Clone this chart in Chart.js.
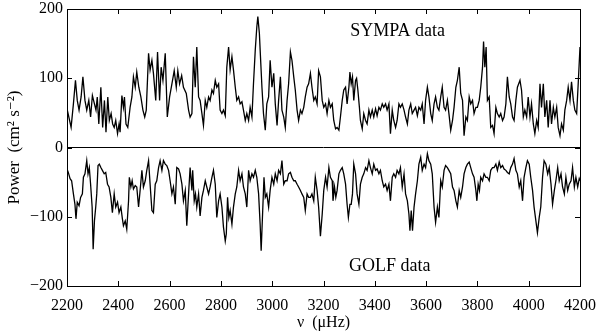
<!DOCTYPE html>
<html>
<head>
<meta charset="utf-8">
<script src="https://cdn.jsdelivr.net/npm/chart.js@4"></script>
<style>
html, body { margin: 0; padding: 0; background: #fff; }
#wrap { width: 600px; height: 332px; }
</style>
</head>
<body>
<div id="wrap"><canvas id="powerChart" width="600" height="332"></canvas></div>
<script>
// [frequency (muHz), power]
const sympa = [
  [2200,56],[2216,29],[2225,63],[2233,97],[2240,68],[2247,54],[2255,73],[2262,102],[2270,68],[2277,54],[2285,68],[2292,44],[2299,75],[2307,63],[2313,54],[2318,73],[2324,34],[2332,87],[2339,29],[2346,68],[2352,22],[2359,73],[2365,39],[2372,49],[2378,34],[2384,29],[2390,39],[2397,20],[2403,34],[2407,22],[2414,75],[2420,58],[2424,73],[2430,34],[2437,29],[2446,58],[2453,73],[2459,102],[2466,87],[2472,109],[2480,87],[2488,73],[2496,54],[2503,44],[2509,54],[2518,136],[2524,112],[2531,126],[2537,107],[2546,68],[2553,138],[2561,68],[2567,116],[2574,97],[2583,136],[2591,44],[2600,73],[2609,92],[2618,111],[2626,87],[2632,111],[2639,92],[2647,104],[2654,87],[2665,78],[2674,54],
  [2680,44],[2687,49],[2693,131],[2700,87],[2706,145],[2713,73],[2719,68],[2726,49],[2732,32],[2739,68],[2745,58],[2752,73],[2758,68],[2765,83],[2771,78],[2778,97],[2784,87],[2791,92],[2797,54],[2804,49],[2810,54],[2817,46],[2823,116],[2830,145],[2836,112],[2843,131],[2849,112],[2856,87],[2862,68],[2869,73],[2875,63],[2882,66],[2888,54],[2895,39],[2901,49],[2908,39],[2914,58],[2921,44],[2927,92],[2934,141],[2940,174],[2944,189],[2950,165],[2953,141],[2960,87],[2966,49],[2973,25],[2979,63],[2986,73],[2992,126],[2999,87],[3006,107],[3012,63],[3019,32],[3025,68],[3032,102],[3038,54],[3045,44],[3051,29],[3058,68],[3064,92],[3071,138],[3077,126],[3084,102],[3090,83],[3097,54],[3103,39],[3110,54],[3116,49],[3123,58],[3129,73],[3136,87],[3142,92],[3149,107],[3155,87],[3162,68],[3168,73],[3175,63],[3181,111],
  [3188,102],[3195,68],[3201,58],[3208,63],[3214,49],[3221,68],[3227,58],[3234,63],[3240,39],[3247,27],[3253,29],[3260,25],[3266,44],[3273,68],[3279,83],[3286,87],[3292,63],[3299,87],[3303,109],[3308,92],[3313,102],[3318,68],[3325,97],[3329,100],[3334,83],[3340,58],[3344,39],[3351,27],[3357,49],[3364,39],[3370,34],[3377,54],[3383,44],[3390,54],[3396,44],[3403,56],[3409,46],[3416,58],[3422,54],[3429,63],[3435,58],[3442,63],[3448,54],[3455,63],[3461,20],[3468,54],[3474,39],[3481,29],[3487,39],[3494,63],[3500,58],[3507,63],[3514,54],[3520,44],[3527,34],[3533,54],[3540,63],[3546,49],[3553,54],[3559,58],[3566,46],[3572,58],[3579,54],[3585,63],[3592,34],[3598,68],[3605,87],[3611,73],[3618,49],[3624,39],[3631,63],[3637,73],[3644,58],[3650,54],[3657,73],[3663,87],[3670,58],[3676,54],[3683,68],[3689,49],
  [3696,25],[3703,39],[3709,58],[3716,87],[3722,97],[3729,116],[3735,78],[3742,68],[3748,17],[3755,44],[3761,39],[3768,73],[3774,63],[3781,68],[3787,49],[3794,58],[3800,58],[3807,68],[3813,87],[3820,116],[3824,153],[3829,116],[3834,145],[3839,68],[3846,73],[3852,29],[3859,32],[3865,20],[3872,58],[3878,49],[3885,44],[3891,49],[3898,39],[3904,44],[3911,63],[3917,102],[3924,73],[3930,63],[3937,44],[3943,39],[3950,68],[3956,87],[3966,97],[3972,83],[3979,44],[3985,54],[3992,44],[3998,73],[4005,44],[4011,63],[4018,34],[4024,20],[4031,39],[4037,29],[4044,92],[4050,58],[4057,92],[4063,44],[4070,68],[4076,29],[4083,68],[4089,34],[4096,58],[4102,44],[4109,58],[4115,29],[4122,17],[4128,34],[4135,25],[4141,54],[4148,68],[4154,87],[4161,68],[4167,95],[4174,68],[4180,54],[4187,49],[4193,92],[4200,145]
];

const golf = [
  [2200,-31],[2205,-36],[2212,-45],[2218,-48],[2225,-67],[2231,-82],[2235,-103],[2240,-79],[2247,-84],[2253,-72],[2260,-67],[2264,-43],[2270,-38],[2277,-19],[2282,-38],[2287,-29],[2292,-53],[2298,-86],[2302,-147],[2307,-106],[2312,-86],[2316,-67],[2321,-26],[2326,-24],[2332,-29],[2338,-33],[2345,-38],[2351,-36],[2358,-53],[2364,-57],[2371,-72],[2377,-94],[2384,-67],[2390,-86],[2397,-79],[2403,-94],[2410,-86],[2416,-103],[2420,-113],[2427,-106],[2433,-118],[2440,-77],[2443,-43],[2449,-57],[2454,-48],[2459,-60],[2466,-55],[2472,-57],[2479,-86],[2485,-62],[2492,-33],[2498,-57],[2505,-48],[2511,-33],[2518,-19],[2524,-53],[2531,-91],[2537,-94],[2544,-53],[2550,-48],[2557,-29],[2563,-19],[2570,-33],[2576,-19],[2583,-24],[2589,-26],[2596,-33],[2602,-48],[2609,-67],[2615,-57],[2622,-82],[2628,-29],[2635,-31],[2641,-38],[2648,-53],[2654,-77],[2661,-62],[2667,-113],[2674,-67],
  [2680,-29],[2687,-62],[2690,-33],[2696,-77],[2701,-67],[2706,-86],[2713,-67],[2719,-99],[2726,-72],[2732,-62],[2739,-48],[2745,-57],[2752,-67],[2758,-57],[2765,-43],[2771,-33],[2778,-53],[2784,-101],[2791,-77],[2797,-67],[2804,-86],[2810,-115],[2817,-135],[2821,-125],[2826,-72],[2831,-101],[2836,-91],[2843,-111],[2849,-86],[2856,-67],[2862,-57],[2869,-33],[2875,-48],[2882,-38],[2888,-57],[2895,-67],[2901,-86],[2908,-33],[2914,-48],[2921,-38],[2927,-43],[2934,-33],[2940,-43],[2947,-67],[2953,-111],[2957,-149],[2963,-91],[2968,-43],[2973,-72],[2979,-67],[2986,-86],[2992,-62],[2999,-43],[3006,-53],[3012,-38],[3019,-48],[3025,-33],[3032,-38],[3038,-19],[3045,-53],[3051,-48],[3058,-48],[3064,-38],[3071,-36],[3077,-43],[3084,-48],[3090,-48],[3097,-53],[3103,-57],[3110,-62],[3116,-67],[3123,-72],[3129,-91],[3136,-67],[3142,-72],[3149,-72],[3155,-67],[3162,-77],[3168,-43],[3175,-62],[3181,-86],
  [3188,-128],[3195,-96],[3201,-62],[3208,-43],[3214,-57],[3221,-29],[3227,-43],[3234,-48],[3237,-77],[3243,-57],[3248,-72],[3253,-62],[3260,-38],[3266,-33],[3273,-29],[3279,-38],[3286,-53],[3292,-82],[3297,-101],[3303,-82],[3308,-82],[3313,-67],[3318,-24],[3325,-38],[3331,-67],[3338,-82],[3344,-53],[3351,-43],[3357,-38],[3364,-29],[3370,-33],[3377,-19],[3383,-29],[3390,-38],[3396,-24],[3403,-33],[3409,-31],[3416,-38],[3422,-33],[3429,-48],[3435,-57],[3442,-53],[3448,-62],[3455,-53],[3461,-77],[3468,-43],[3474,-38],[3481,-43],[3487,-33],[3494,-38],[3500,-29],[3507,-57],[3514,-38],[3520,-67],[3527,-77],[3533,-96],[3537,-120],[3542,-91],[3547,-120],[3553,-86],[3559,-67],[3566,-48],[3572,-24],[3579,-14],[3585,-33],[3592,-24],[3598,-29],[3605,-9],[3611,-19],[3618,-24],[3624,-38],[3631,-86],[3637,-108],[3644,-86],[3650,-101],[3657,-48],[3663,-57],[3670,-33],[3676,-26],[3683,-29],[3689,-33],
  [3696,-38],[3703,-57],[3709,-62],[3716,-77],[3722,-86],[3729,-62],[3735,-72],[3742,-57],[3748,-38],[3755,-29],[3761,-24],[3768,-21],[3774,-29],[3781,-38],[3787,-43],[3794,-62],[3798,-77],[3803,-53],[3808,-62],[3813,-43],[3820,-48],[3826,-38],[3833,-43],[3839,-43],[3846,-48],[3852,-33],[3859,-29],[3865,-29],[3872,-24],[3878,-33],[3885,-21],[3891,-29],[3898,-26],[3904,-31],[3911,-33],[3917,-36],[3924,-38],[3930,-29],[3937,-24],[3943,-16],[3950,-33],[3956,-38],[3963,-57],[3969,-48],[3976,-77],[3982,-43],[3989,-29],[3995,-19],[4002,-24],[4008,-43],[4015,-62],[4021,-86],[4028,-106],[4034,-123],[4041,-101],[4047,-86],[4054,-43],[4060,-19],[4067,-24],[4074,-38],[4080,-29],[4087,-53],[4093,-82],[4100,-62],[4106,-48],[4113,-29],[4119,-48],[4126,-38],[4132,-57],[4139,-67],[4145,-43],[4152,-62],[4158,-53],[4165,-48],[4171,-29],[4178,-57],[4184,-43],[4191,-57],[4197,-45],[4200,-48]
];

const xTicks = [2200, 2400, 2600, 2800, 3000, 3200, 3400, 3600, 3800, 4000, 4200];
const yTicks = [-200, -100, 0, 100, 200];

const serif = "'Liberation Serif', 'DejaVu Serif', serif";

// box around the plot, ticks pointing inward, and the two text labels
const boxTicks = {
    id: 'boxTicks',
    afterDatasetsDraw(chart) {
        const { ctx, chartArea: a, scales: { x, y } } = chart;
        ctx.save();
        ctx.strokeStyle = '#000';
        ctx.lineWidth = 1;
        ctx.strokeRect(a.left + 0.5, a.top + 0.5, a.right - a.left, a.bottom - a.top);
        ctx.beginPath();
        xTicks.forEach(v => {
            const px = Math.round(x.getPixelForValue(v)) + 0.5;
            ctx.moveTo(px, a.bottom); ctx.lineTo(px, a.bottom - 5);
            ctx.moveTo(px, a.top); ctx.lineTo(px, a.top + 5);
        });
        yTicks.forEach(v => {
            const py = Math.round(y.getPixelForValue(v)) + 0.5;
            ctx.moveTo(a.left, py); ctx.lineTo(a.left + 5, py);
            ctx.moveTo(a.right, py); ctx.lineTo(a.right - 5, py);
        });
        ctx.stroke();

        ctx.fillStyle = '#000';
        ctx.font = '18px ' + serif;
        ctx.textAlign = 'center';
        ctx.textBaseline = 'middle';
        ctx.fillText('SYMPA data', x.getPixelForValue(3489), y.getPixelForValue(168));
        ctx.fillText('GOLF data', x.getPixelForValue(3458), y.getPixelForValue(-172));
        ctx.restore();
    }
};

const toPoints = arr => arr.map(p => ({ x: p[0], y: p[1] }));

const powerChart = new Chart(document.querySelector('#powerChart'), {
    type: 'line',
    data: {
        datasets: [
            {
                label: 'SYMPA data',
                data: toPoints(sympa),
                borderColor: '#000',
                borderWidth: 1.3,
                pointRadius: 0,
                tension: 0,
            },
            {
                label: 'GOLF data',
                data: toPoints(golf),
                borderColor: '#000',
                borderWidth: 1.3,
                pointRadius: 0,
                tension: 0,
            },
        ],
    },
    options: {
        responsive: false,
        animation: false,
        layout: { padding: { top: 9, right: 20, left: 0, bottom: 0 } },
        plugins: {
            legend: { display: false },
            tooltip: { enabled: false },
        },
        scales: {
            x: {
                type: 'linear',
                min: 2200,
                max: 4200,
                afterBuildTicks: s => { s.ticks = xTicks.map(v => ({ value: v })); },
                afterFit: s => { s.height = 46; },
                grid: { display: false },
                border: { display: false },
                ticks: {
                    color: '#000',
                    font: { family: serif, size: 16 },
                    padding: 2,
                    maxRotation: 0,
                    callback: v => String(v),
                },
                title: {
                    display: true,
                    text: 'ν  (μHz)',
                    color: '#000',
                    font: { family: serif, size: 16 },
                    padding: { top: 0, bottom: 0 },
                },
            },
            y: {
                min: -200,
                max: 200,
                afterBuildTicks: s => { s.ticks = yTicks.map(v => ({ value: v })); },
                afterFit: s => { s.width = 67; s.paddingTop = 0; s.paddingBottom = 0; },
                grid: {
                    drawTicks: false,
                    color: c => (c.tick && c.tick.value === 0 ? '#000' : 'rgba(0,0,0,0)'),
                    lineWidth: 1,
                },
                border: { display: false },
                ticks: {
                    color: '#000',
                    font: { family: serif, size: 16 },
                    padding: 4,
                    callback: v => String(v).replace('-', '\u2212'),
                },
                title: {
                    display: true,
                    text: 'Power  (cm² s⁻²)',
                    color: '#000',
                    font: { family: serif, size: 17 },
                    padding: { top: 4, bottom: 0 },
                },
            },
        },
    },
    plugins: [boxTicks],
});
</script>
</body>
</html>
